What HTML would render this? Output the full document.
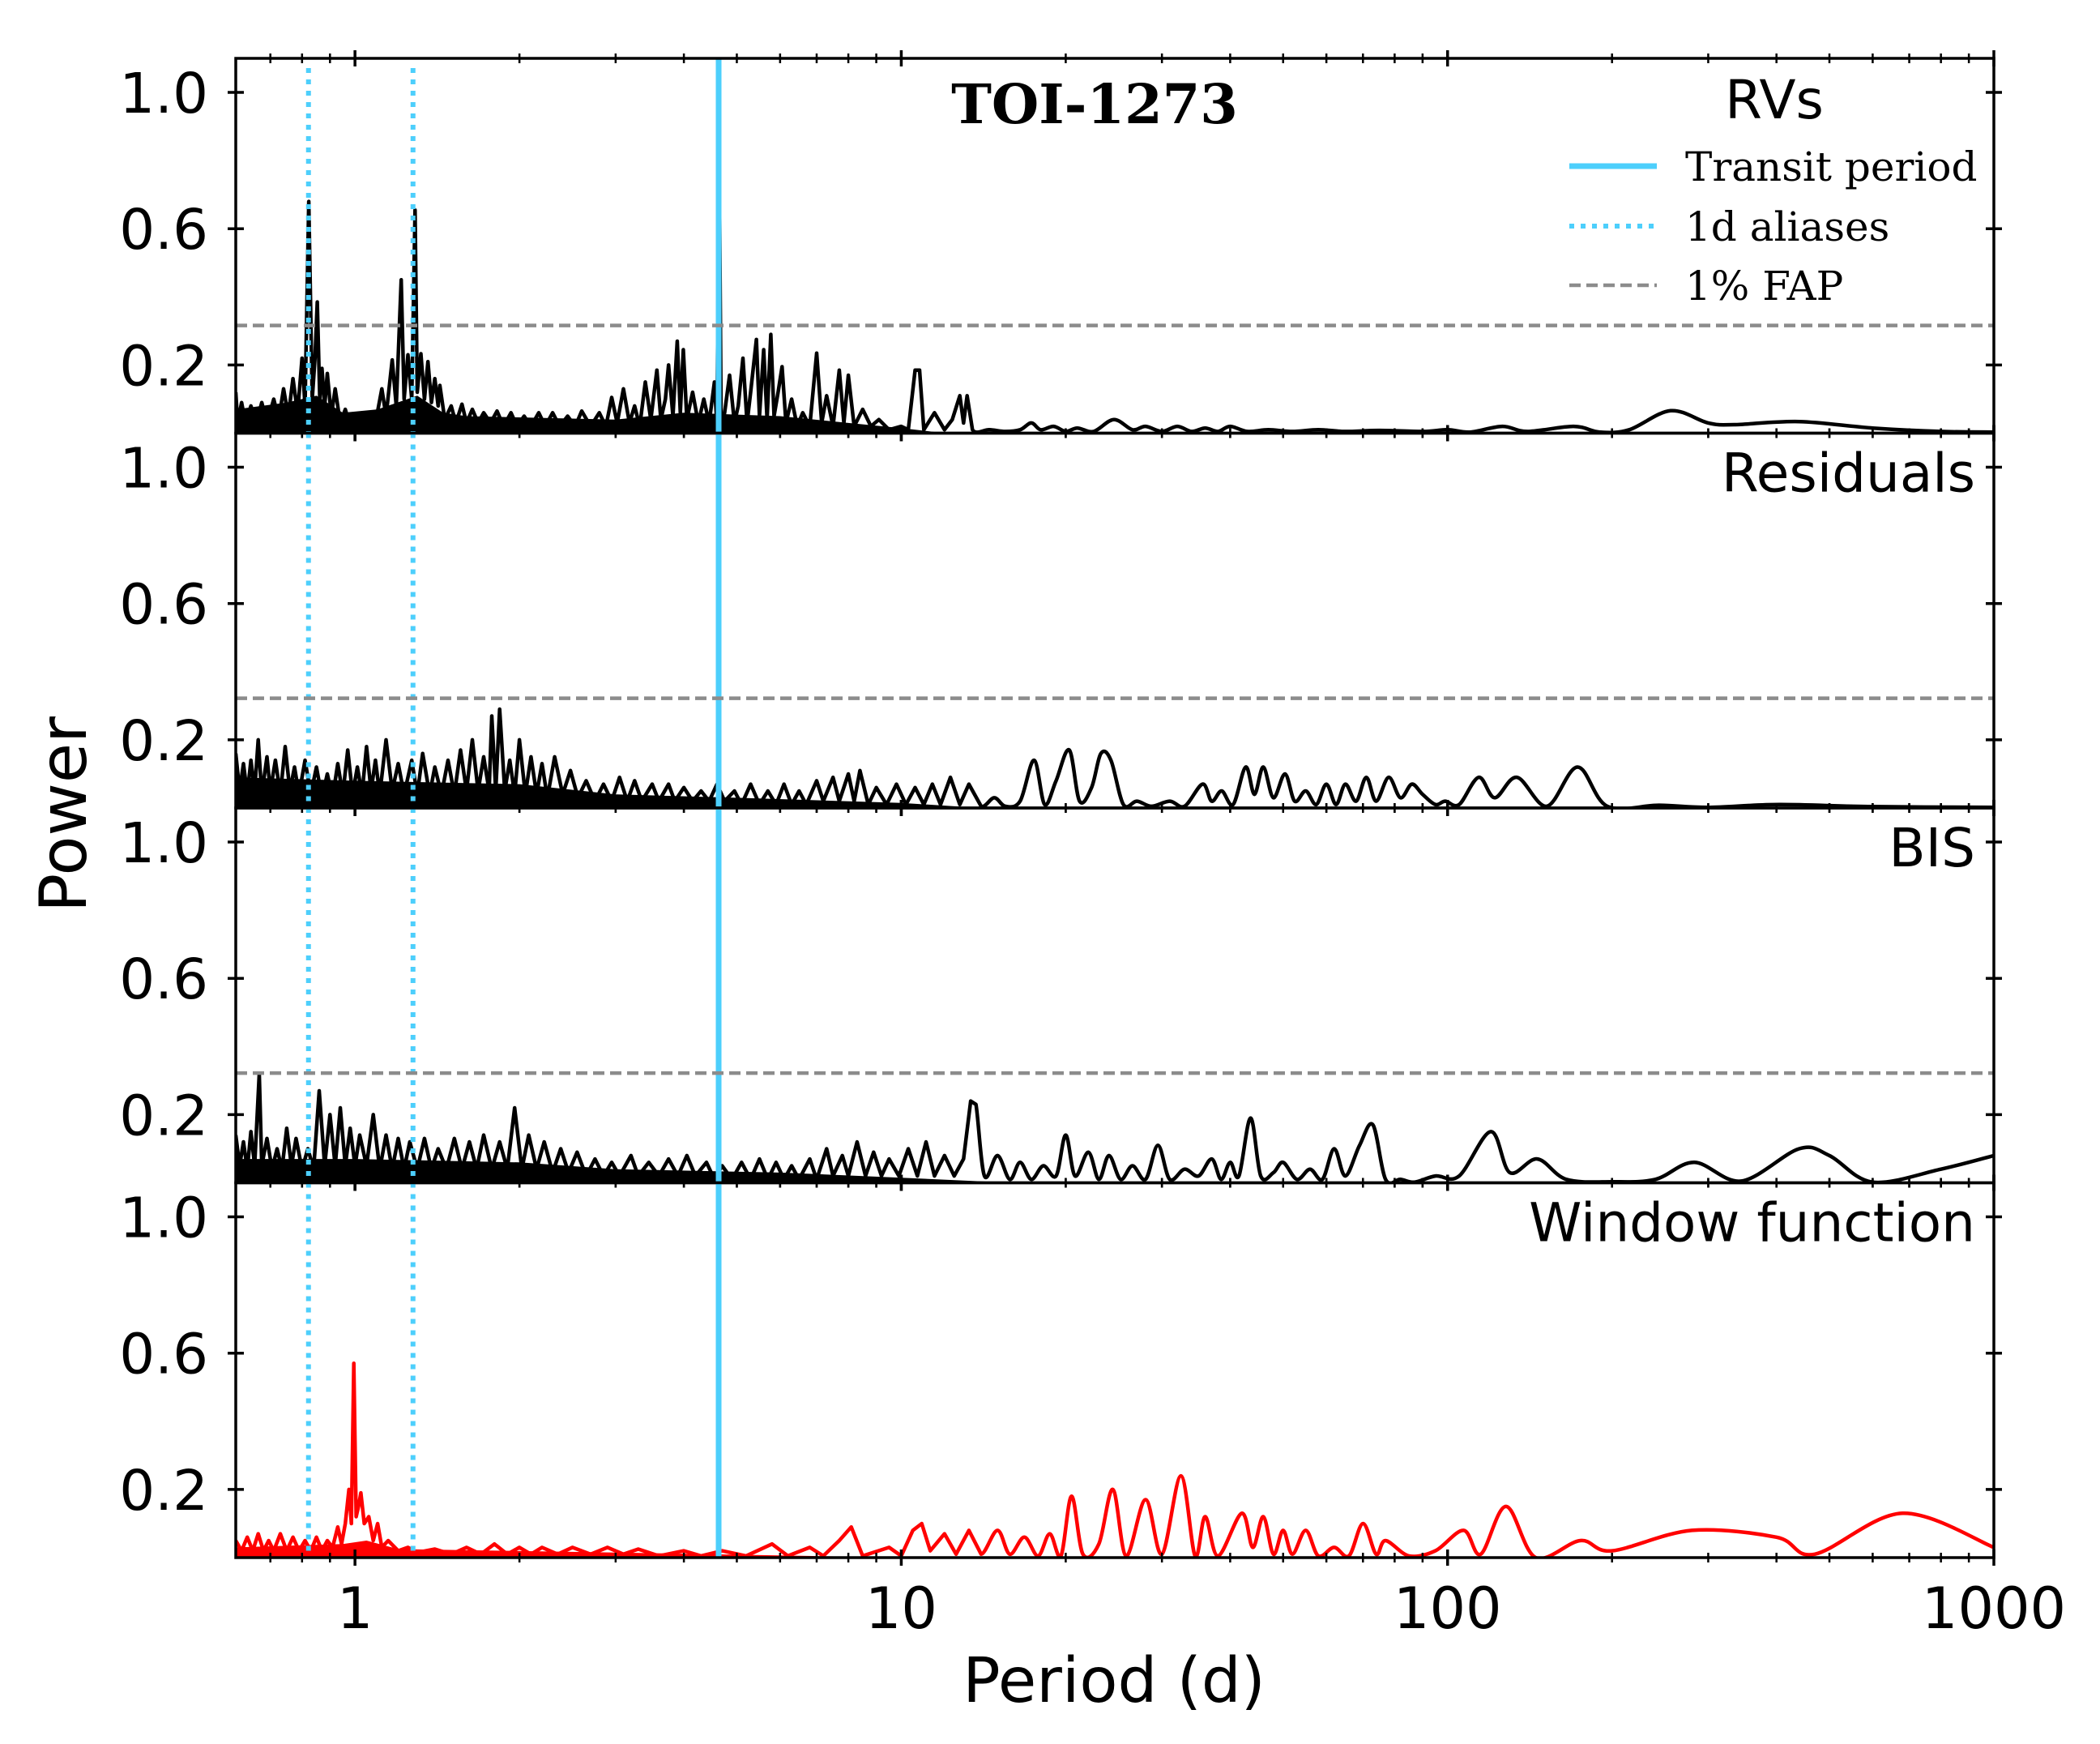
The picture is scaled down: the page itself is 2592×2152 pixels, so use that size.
<!DOCTYPE html>
<html><head><meta charset="utf-8"><style>
html,body{margin:0;padding:0;background:#fff;}
svg{display:block;}
text{font-family:"DejaVu Sans","Liberation Sans",sans-serif;fill:#000;}
.serif{font-family:"DejaVu Serif","Liberation Serif",serif;}
</style></head><body>
<svg id="chart" width="2592" height="2152" viewBox="0 0 2592 2152" xmlns="http://www.w3.org/2000/svg"></svg>
<script>
// ---- data ----
const panelNames = ["RVs","Residuals","BIS","Window function"];
const yTicks = [0.2, 0.6, 1.0];
const yTickLabels = ["0.2","0.6","1.0"];
const xTicks = [1, 10, 100, 1000];
const xTickLabels = ["1","10","100","1000"];
const faps = [0.316, 0.322, 0.322, null];
const transitPeriod = 4.631;
const aliasPeriods = [0.822, 1.277];

const rvP = [0.605,0.61,0.62,0.63,0.645,0.66,0.675,0.69,0.71,0.725,0.74,0.755,0.77,0.785,0.80,0.81,0.823,0.835,0.845,0.853,0.862,0.87,0.88,0.89,0.905,0.92,0.94,0.96,0.98,1.0,1.03,1.06,1.09,1.12,1.14,1.17,1.19,1.215,1.23,1.25,1.27,1.288,1.30,1.32,1.34,1.36,1.38,1.40,1.42,1.43,1.46,1.5,1.53,1.57,1.6,1.64,1.68,1.72,1.77,1.82,1.87,1.93,1.98,2.04,2.1,2.17,2.23,2.3,2.37,2.45,2.53,2.6,2.7,2.8,2.88,2.95,3.02,3.1,3.18,3.25,3.32,3.4,3.48,3.57,3.63,3.7,3.75,3.82,3.89,3.94,3.99,4.05,4.15,4.25,4.35,4.45,4.55,4.6,4.64,4.68,4.75,4.85,4.95,5.03,5.13,5.22,5.3,5.43,5.5,5.6,5.68,5.77,5.85,5.95,6.05,6.15,6.3,6.45,6.6,6.8,7.0,7.15,7.3,7.5,7.7,7.85,8.0,8.2,8.5,8.8,9.1,9.5,10.0,10.3,10.6,10.8,11.0,11.5,12.0,12.4,12.8,13.0,13.2,13.5,14.5,15.5,16.5,17.3,18,19,20,21,22.5,24.5,26.5,28,30,32,34,36,38,40,43,47,52,58,65,75,90,100,110,126,140,170,190,215,256,300,335,440,600,800,1000];
const rvY = [0.12,0.03,0.09,0.03,0.08,0.03,0.09,0.03,0.1,0.04,0.13,0.05,0.16,0.06,0.22,0.08,0.68,0.1,0.22,0.385,0.1,0.19,0.08,0.175,0.05,0.13,0.03,0.07,0.02,0.05,0.02,0.06,0.03,0.13,0.05,0.215,0.08,0.45,0.1,0.23,0.1,0.655,0.12,0.233,0.1,0.21,0.09,0.16,0.08,0.14,0.04,0.08,0.03,0.085,0.03,0.07,0.03,0.06,0.03,0.065,0.02,0.06,0.02,0.05,0.02,0.06,0.02,0.06,0.02,0.05,0.02,0.065,0.02,0.06,0.02,0.105,0.03,0.13,0.03,0.08,0.02,0.15,0.04,0.185,0.04,0.1,0.2,0.05,0.27,0.06,0.245,0.04,0.12,0.03,0.1,0.03,0.15,0.02,0.85,0.02,0.06,0.17,0.03,0.08,0.22,0.03,0.12,0.275,0.05,0.245,0.04,0.29,0.05,0.12,0.195,0.03,0.1,0.02,0.06,0.02,0.235,0.03,0.11,0.02,0.185,0.03,0.17,0.02,0.07,0.02,0.04,0.01,0.02,0.01,0.185,0.185,0.01,0.06,0.01,0.04,0.11,0.03,0.11,0.01,0.01,0.005,0.01,0.03,0.01,0.02,0.005,0.015,0.005,0.04,0.01,0.02,0.005,0.02,0.005,0.015,0.005,0.02,0.005,0.01,0.005,0.01,0.005,0.008,0.005,0.01,0.003,0.02,0.005,0.02,0.003,0.01,0.066,0.03,0.025,0.034,0.015,0.005,0.003];
const rvFloorP = [0.605,0.75,0.85,0.95,1.1,1.3,1.45,1.6,3,4,6,8,10,12];
const rvFloorY = [0.07,0.09,0.11,0.06,0.07,0.11,0.06,0.05,0.04,0.06,0.05,0.03,0.015,0];

const resP = [0.605,0.615,0.625,0.635,0.645,0.655,0.665,0.675,0.69,0.7,0.715,0.73,0.745,0.76,0.775,0.79,0.81,0.83,0.85,0.87,0.89,0.91,0.93,0.95,0.97,0.99,1.01,1.03,1.05,1.07,1.09,1.11,1.14,1.17,1.2,1.23,1.27,1.3,1.33,1.37,1.4,1.44,1.48,1.52,1.56,1.6,1.64,1.68,1.72,1.76,1.78,1.81,1.84,1.88,1.92,1.96,2.0,2.05,2.1,2.15,2.2,2.25,2.32,2.4,2.48,2.56,2.65,2.75,2.85,2.95,3.05,3.15,3.25,3.35,3.5,3.6,3.75,3.85,4.0,4.15,4.3,4.45,4.6,4.75,4.95,5.1,5.3,5.5,5.7,5.9,6.1,6.3,6.5,6.7,7.0,7.2,7.5,7.7,8.0,8.2,8.4,8.7,9.0,9.4,9.8,10.2,10.6,11,11.4,11.8,12.3,12.8,13.3,14,14.8,15.5,16.5,17.5,18.3,19.2,20.3,21.2,22.3,23.2,24.2,25.5,27,28.7,31,33,35.6,37,38.6,40.5,42.7,44.3,46,48,50.4,52.5,55,57.5,60,62.5,65,68,71,74,78,82,86,90,95,99,105,114,122,134,152,173,196,244,300,405,600,1000];
const resY = [0.16,0.05,0.13,0.04,0.14,0.05,0.2,0.04,0.15,0.05,0.14,0.04,0.18,0.05,0.12,0.04,0.14,0.04,0.12,0.03,0.1,0.03,0.13,0.04,0.17,0.04,0.12,0.04,0.18,0.05,0.14,0.04,0.2,0.05,0.13,0.04,0.14,0.04,0.16,0.04,0.12,0.04,0.14,0.04,0.17,0.05,0.2,0.05,0.15,0.05,0.27,0.05,0.29,0.05,0.14,0.04,0.2,0.04,0.15,0.04,0.13,0.03,0.15,0.04,0.11,0.03,0.08,0.02,0.07,0.02,0.09,0.02,0.08,0.02,0.07,0.02,0.07,0.02,0.06,0.02,0.05,0.02,0.07,0.02,0.05,0.01,0.07,0.01,0.05,0.01,0.07,0.01,0.05,0.01,0.08,0.02,0.09,0.02,0.1,0.02,0.11,0.01,0.06,0.01,0.07,0.01,0.06,0.01,0.07,0.01,0.09,0.01,0.07,0.005,0.03,0.005,0.02,0.14,0.01,0.08,0.17,0.02,0.06,0.16,0.14,0.01,0.02,0.005,0.02,0.005,0.07,0.02,0.05,0.01,0.12,0.04,0.12,0.03,0.1,0.02,0.05,0.01,0.07,0.01,0.07,0.02,0.09,0.02,0.09,0.03,0.07,0.04,0.01,0.02,0.01,0.09,0.03,0.09,0.005,0.12,0.005,0.008,0.002,0.01,0.004,0.002];
const resFloorP = [0.605,1.0,2.0,3,5,10,14];
const resFloorY = [0.09,0.08,0.07,0.04,0.03,0.015,0];

const bisP = [0.605,0.615,0.625,0.635,0.645,0.655,0.668,0.675,0.69,0.705,0.72,0.735,0.75,0.765,0.78,0.8,0.82,0.84,0.86,0.88,0.9,0.92,0.94,0.96,0.98,1.0,1.02,1.05,1.08,1.11,1.14,1.17,1.2,1.23,1.26,1.3,1.34,1.38,1.42,1.47,1.52,1.57,1.62,1.67,1.72,1.78,1.84,1.9,1.96,2.02,2.08,2.15,2.22,2.3,2.38,2.46,2.55,2.65,2.75,2.85,2.95,3.05,3.2,3.3,3.45,3.6,3.75,3.9,4.05,4.2,4.4,4.55,4.7,4.9,5.1,5.3,5.5,5.7,5.9,6.1,6.3,6.5,6.8,7.0,7.3,7.5,7.8,8.0,8.3,8.6,8.9,9.2,9.5,9.9,10.3,10.7,11.1,11.5,12,12.5,13.0,13.4,13.7,14.2,15,15.8,16.5,17.3,18.2,19.2,20,20.8,22,23,24,25.2,26.5,28,29.5,31,33,35,37,38.5,40,41.5,43.6,45.5,48,50,53,56,59,62,65,69,73,77,82,87,95,105,120,130,146,165,200,240,283,345,440,500,600,800,1000];
const bisY = [0.14,0.05,0.12,0.04,0.15,0.05,0.32,0.05,0.13,0.04,0.1,0.04,0.16,0.05,0.13,0.04,0.1,0.04,0.27,0.05,0.2,0.05,0.22,0.05,0.16,0.05,0.14,0.05,0.2,0.04,0.14,0.04,0.13,0.04,0.12,0.04,0.13,0.04,0.1,0.04,0.13,0.04,0.12,0.04,0.14,0.04,0.12,0.04,0.22,0.04,0.14,0.04,0.12,0.03,0.1,0.03,0.09,0.02,0.07,0.02,0.06,0.02,0.08,0.02,0.06,0.02,0.07,0.02,0.08,0.02,0.06,0.01,0.05,0.01,0.06,0.01,0.07,0.01,0.06,0.01,0.05,0.01,0.07,0.01,0.1,0.02,0.08,0.02,0.12,0.02,0.09,0.02,0.07,0.02,0.1,0.02,0.12,0.02,0.08,0.02,0.07,0.24,0.23,0.02,0.08,0.01,0.06,0.01,0.05,0.02,0.14,0.02,0.09,0.01,0.08,0.01,0.05,0.01,0.11,0.01,0.04,0.02,0.07,0.01,0.06,0.02,0.19,0.02,0.03,0.06,0.01,0.04,0.01,0.1,0.02,0.11,0.17,0.01,0.01,0.002,0.02,0.02,0.15,0.03,0.07,0.01,0.003,0.01,0.06,0.005,0.1,0.08,0.002,0.04,0.08];
const bisFloorP = [0.605,1,2,3,6,10,16];
const bisFloorY = [0.07,0.07,0.06,0.04,0.03,0.015,0];

const winP = [0.605,0.62,0.635,0.65,0.665,0.68,0.695,0.71,0.73,0.75,0.77,0.79,0.81,0.83,0.85,0.87,0.89,0.91,0.93,0.945,0.96,0.975,0.985,0.995,1.005,1.015,1.025,1.04,1.06,1.08,1.1,1.12,1.15,1.2,1.25,1.3,1.4,1.5,1.6,1.7,1.8,1.9,2.0,2.1,2.2,2.35,2.5,2.7,2.9,3.1,3.3,3.6,4.0,4.3,4.7,5.2,5.8,6.2,6.8,7.2,7.7,8.1,8.5,9.5,10,10.5,10.9,11.3,12,12.6,13.3,14,15,15.8,16.8,17.8,18.7,19.6,20.5,21.5,23,24.4,25.8,28,30,32.5,34.5,36,38,42,44,46,48,50,52,55,58,62,66,70,74,77,85,95,107,115,128,145,175,200,280,400,470,680,1000];
const winY = [0.05,0.02,0.06,0.02,0.07,0.02,0.05,0.02,0.07,0.02,0.06,0.02,0.05,0.02,0.06,0.02,0.05,0.03,0.09,0.04,0.1,0.2,0.1,0.57,0.12,0.15,0.19,0.1,0.12,0.05,0.1,0.03,0.05,0.02,0.03,0.015,0.025,0.01,0.03,0.01,0.04,0.01,0.03,0.01,0.03,0.01,0.03,0.01,0.03,0.01,0.025,0.005,0.02,0.005,0.02,0.005,0.04,0.005,0.03,0.005,0.05,0.09,0.005,0.03,0.005,0.08,0.1,0.02,0.07,0.01,0.08,0.01,0.08,0.01,0.06,0.005,0.07,0.005,0.18,0.01,0.04,0.2,0.005,0.17,0.01,0.24,0.005,0.12,0.005,0.13,0.03,0.12,0.01,0.08,0.01,0.08,0.005,0.03,0.005,0.1,0.01,0.05,0.005,0.02,0.08,0.01,0.15,0.0,0.05,0.02,0.08,0.06,0.01,0.13,0.03];
const winFloorP = [0.605,0.95,1.05,1.2,3,10];
const winFloorY = [0.03,0.04,0.05,0.025,0.015,0];

const seriesP = [rvP,resP,bisP,winP];
const seriesY = [rvY,resY,bisY,winY];
const floorP = [rvFloorP,resFloorP,bisFloorP,winFloorP];
const floorY = [rvFloorY,resFloorY,bisFloorY,winFloorY];

// ---- layout ----
const NS="http://www.w3.org/2000/svg";
const svg=document.getElementById('chart');
const L=291,R=2461,T=72,PH=462.5,XMIN=0.605,XMAX=1000,YMAX=1.1;
const lx0=Math.log10(XMIN),lx1=Math.log10(XMAX);
function xs(p){return L+(Math.log10(p)-lx0)/(lx1-lx0)*(R-L);}
function ys(i,v){const b=T+PH*(i+1);return b-v/YMAX*PH;}
function mk(tag,attrs,parent){const e=document.createElementNS(NS,tag);for(const k in attrs)e.setAttribute(k,attrs[k]);(parent||svg).appendChild(e);return e;}

function pathFor(i,P,Y){
  let d='';
  for(let k=0;k<P.length;k++){
    const x=xs(P[k]),y=ys(i,Y[k]);
    if(k===0){d+='M'+x.toFixed(1)+' '+y.toFixed(1);continue;}
    if(P[k]>14){
      const p0=k>=2?[xs(P[k-2]),ys(i,Y[k-2])]:[xs(P[k-1]),ys(i,Y[k-1])];
      const p1=[xs(P[k-1]),ys(i,Y[k-1])];
      const p3=k+1<P.length?[xs(P[k+1]),ys(i,Y[k+1])]:[x,y];
      const c1=[p1[0]+(x-p0[0])/6,p1[1]+(y-p0[1])/6];
      const c2=[x-(p3[0]-p1[0])/6,y-(p3[1]-p1[1])/6];
      d+='C'+c1[0].toFixed(1)+' '+c1[1].toFixed(1)+' '+c2[0].toFixed(1)+' '+c2[1].toFixed(1)+' '+x.toFixed(1)+' '+y.toFixed(1);
    } else d+='L'+x.toFixed(1)+' '+y.toFixed(1);
  }
  return d;
}

for(let i=0;i<4;i++){
  const top=T+PH*i,bot=top+PH;
  const g=mk('g',{});
  
  
  const cp=mk('clipPath',{id:'cp'+i},g);
  mk('rect',{x:L,y:top,width:R-L,height:PH},cp);
  const col=i===3?'#ff0000':'#000';
  let fd='M'+xs(floorP[i][0])+' '+bot;
  for(let k=0;k<floorP[i].length;k++) fd+='L'+xs(floorP[i][k]).toFixed(1)+' '+ys(i,floorY[i][k]).toFixed(1);
  fd+='L'+xs(floorP[i][floorP[i].length-1]).toFixed(1)+' '+bot+'Z';
  const fl=mk('path',{d:fd,fill:col,'clip-path':'url(#cp'+i+')'},g);
  
  
  const ln=mk('path',{d:pathFor(i,seriesP[i],seriesY[i]),fill:'none',stroke:col,'stroke-width':4.5,'stroke-linejoin':'round','clip-path':'url(#cp'+i+')'},g);
  
  
  const tl=mk('line',{x1:xs(transitPeriod),x2:xs(transitPeriod),y1:top,y2:bot,stroke:'#4dcffc','stroke-width':7},g);
  
  
  for(const a of aliasPeriods){
    const al=mk('line',{x1:xs(a),x2:xs(a),y1:top+(i===0?12:0),y2:bot,stroke:'#4dcffc','stroke-width':6,'stroke-dasharray':'6 8'},g);
    
    
  }
  if(faps[i]!==null){
    const fp=mk('line',{x1:L,x2:R,y1:ys(i,faps[i]),y2:ys(i,faps[i]),stroke:'#8c8c8c','stroke-width':4.5,'stroke-dasharray':'14 7'},g);
    
    
  }
  const fr=mk('rect',{x:L,y:top,width:R-L,height:PH,fill:'none',stroke:'#000','stroke-width':3.5},g);
  
  
  for(let k=0;k<yTicks.length;k++){
    const y=ys(i,yTicks[k]);
    mk('line',{x1:L-10,x2:L+10,y1:y,y2:y,stroke:'#000','stroke-width':3.5},g);
    mk('line',{x1:R-10,x2:R+10,y1:y,y2:y,stroke:'#000','stroke-width':3.5},g);
    const t=mk('text',{x:257,y:y+25,'text-anchor':'end','font-size':69},g);
    t.textContent=yTickLabels[k];
    
    
  }
  for(let e=-1;e<=3;e++){
    for(let m=1;m<=9;m++){
      const p=m*Math.pow(10,e);
      if(p<XMIN||p>XMAX)continue;
      const len=m===1?10:6,w=m===1?3.5:2.5;
      const x=xs(p);
      mk('line',{x1:x,x2:x,y1:top-len,y2:top+len,stroke:'#000','stroke-width':w},g);
      mk('line',{x1:x,x2:x,y1:bot-len,y2:bot+len,stroke:'#000','stroke-width':w},g);
    }
  }
  const lb=mk('text',{x:i===0?2190:2438,y:top+(i===0?74:72),'text-anchor':i===0?'middle':'end','font-size':66},g);
  lb.textContent=panelNames[i];
  
  
}
for(let k=0;k<xTicks.length;k++){
  const t=mk('text',{x:xs(xTicks[k]),y:2009,'text-anchor':'middle','font-size':70});
  t.textContent=xTickLabels[k];
  
  
}
</script>
<script>
(function(){
const svg=document.getElementById('chart');const NS="http://www.w3.org/2000/svg";
function mk(tag,attrs){const e=document.createElementNS(NS,tag);for(const k in attrs)e.setAttribute(k,attrs[k]);svg.appendChild(e);return e;}
let t=mk('text',{x:1351,y:152,'text-anchor':'middle','font-size':67,'font-weight':'bold','class':'serif'});
t.textContent='TOI-1273';


t=mk('text',{x:1375,y:2100,'text-anchor':'middle','font-size':77});
t.textContent='Period (d)';


t=mk('text',{x:0,y:0,'text-anchor':'middle','font-size':80,transform:'translate(106,1005) rotate(-90)'});
t.textContent='Power';


const leg=[['Transit period','#4dcffc','none',207],['1d aliases','#4dcffc','6 8',281],['1% FAP','#8c8c8c','14 7',354]];
for(const r of leg){
  const l=mk('line',{x1:1937,x2:2045,y1:r[3]-2,y2:r[3]-2,stroke:r[1],'stroke-width':r[0]==='Transit period'?7:(r[0]==='1% FAP'?4.5:6),'stroke-dasharray':r[2]});
  
  
  const tx=mk('text',{x:2080,y:r[3]+16,'font-size':50,'class':'serif'});
  tx.textContent=r[0];
  
  
}
})();
</script>
</body></html>
